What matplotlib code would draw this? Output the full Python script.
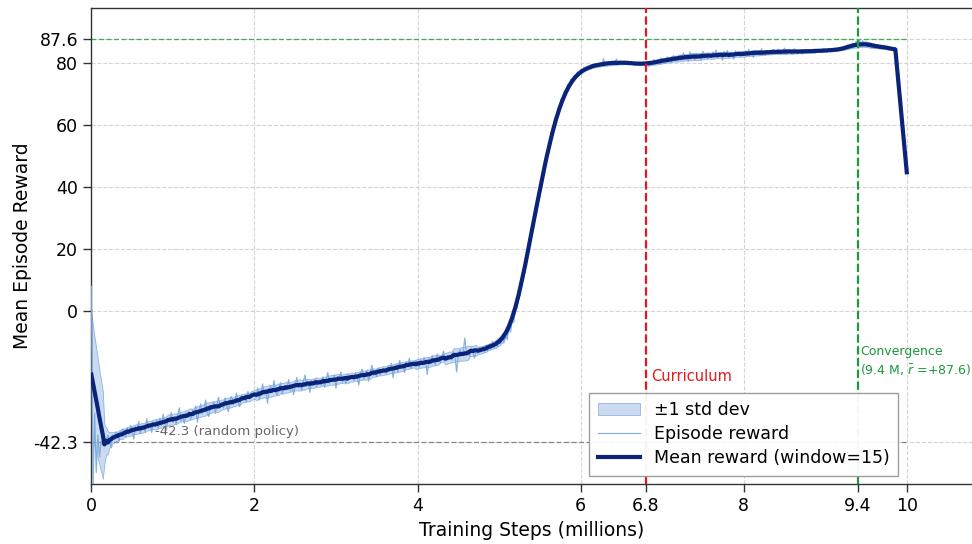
import numpy as np
import pandas as pd
import matplotlib
matplotlib.use("Agg")
import matplotlib.pyplot as plt

# episode reward, one value every 0.02 M steps (0 .. 10 M)
reward = [
    8, -58, -33, -52, -40, -47, -42, -43, -41, -43, -40, -42, -44, -40, -41, -39, -40, -42, -39, -38,
    -38.2, -40.5, -37.6, -39.8, -36.9, -38.7, -41.2, -37.3, -38.1, -35.6, -39.4, -37.2, -36.8, -38.9, -34.7, -37.9, -36.3, -39.1, -35.8, -37.0,
    -35.1, -37.8, -34.6, -36.9, -33.2, -36.0, -38.4, -34.8, -35.5, -32.7, -35.9, -34.1, -36.6, -33.3, -31.2, -35.4, -33.9, -36.2, -32.8, -34.0,
    -32.4, -34.9, -31.8, -33.7, -30.6, -35.8, -32.2, -29.9, -33.1, -31.5, -28.7, -32.6, -34.0, -30.4, -31.8, -29.2, -32.9, -30.1, -27.8, -31.2,
    -29.9, -31.2, -28.0, -30.6, -32.4, -28.7, -27.5, -30.2, -29.0, -26.4, -29.6, -30.8, -27.1, -28.9, -26.8, -29.4, -25.9, -28.3, -27.6, -26.9,
    -26.1, -27.9, -24.8, -28.6, -26.4, -23.5, -27.0, -25.2, -29.7, -25.8, -24.1, -26.3, -22.4, -25.9, -27.2, -24.6, -23.1, -26.8, -24.4, -25.5,
    -24.3, -22.1, -25.8, -23.7, -26.9, -24.0, -21.4, -24.8, -23.2, -25.5, -22.7, -20.6, -24.1, -23.0, -26.2, -22.5, -23.9, -21.8, -24.4, -22.9,
    -22.4, -23.9, -21.2, -24.6, -22.0, -19.8, -23.3, -21.7, -22.8, -20.5, -24.9, -21.1, -22.3, -19.6, -22.9, -21.4, -23.5, -20.2, -21.8, -20.9,
    -20.6, -22.3, -19.8, -21.5, -23.8, -20.1, -18.7, -21.9, -20.4, -19.2, -22.6, -20.0, -17.4, -20.8, -19.5, -21.2, -18.3, -20.6, -19.0, -18.5,
    -18.7, -20.2, -17.6, -19.3, -16.8, -21.5, -18.0, -17.4, -19.6, -15.9, -18.2, -17.1, -19.8, -16.5, -17.7, -15.2, -18.6, -16.9, -17.3, -16.0,
    -16.5, -18.1, -15.7, -17.3, -14.9, -16.6, -20.4, -15.2, -16.9, -14.3, -16.0, -17.5, -13.8, -15.9, -16.7, -14.6, -12.9, -15.8, -14.4, -15.1,
    -14.2, -15.8, -13.1, -14.9, -19.6, -13.7, -12.4, -14.5, -13.0, -8.7, -13.9, -12.8, -14.6, -11.9, -13.4, -15.1, -12.2, -13.6, -11.5, -12.9,
    -11.6, -13.4, -11.0, -12.9, -10.7, -12.3, -9.8, -11.9, -10.1, -11.5, -9.3, -10.6, -8.6, -10.3, -7.9, -9.2, -5.4, -6.8, -3.2, -3.6,
    0.8, 0.9, 4.6, 6.0, 9.9, 11.4, 15.1, 16.5, 20.3, 22.0, 25.8, 27.7, 31.6, 33.5, 37.2, 39.0, 42.6, 44.5, 48.1, 49.6,
    52.9, 54.6, 57.6, 58.9, 61.7, 62.6, 65.1, 66.0, 68.3, 68.8, 70.9, 71.3, 73.0, 73.2, 74.7, 74.6, 76.0, 75.9, 77.1, 76.8,
    77.9, 77.5, 78.5, 77.9, 78.9, 78.3, 79.3, 78.7, 79.6, 78.9, 79.7, 79.0, 79.9, 79.2, 81.4, 79.3, 79.9, 79.5, 80.3, 79.4,
    80.4, 79.7, 81.3, 79.5, 80.6, 79.9, 80.3, 79.6, 80.5, 80.0, 80.4, 79.8, 80.2, 79.6, 80.1, 79.4, 80.0, 79.5, 79.9, 79.4,
    79.1, 80.4, 78.9, 80.6, 79.5, 81.2, 79.7, 80.9, 79.8, 81.6, 80.1, 81.3, 80.2, 82.0, 80.4, 81.7, 80.3, 82.4, 80.6, 81.9,
    81.0, 82.6, 80.9, 83.3, 81.2, 82.4, 80.5, 83.6, 81.4, 82.9, 81.0, 83.1, 81.7, 82.5, 80.8, 83.8, 81.6, 82.7, 81.3, 83.0,
    81.8, 83.5, 82.0, 84.2, 81.6, 83.1, 82.4, 80.9, 83.7, 82.2, 84.0, 81.9, 83.4, 82.5, 81.3, 83.9, 82.6, 83.2, 82.0, 83.6,
    82.5, 83.9, 82.3, 84.4, 82.9, 83.6, 81.8, 84.1, 83.0, 83.5, 82.4, 84.6, 83.2, 83.8, 82.7, 84.0, 83.1, 83.9, 82.8, 84.2,
    83.1, 84.5, 82.9, 84.0, 83.6, 84.8, 82.7, 84.2, 83.4, 83.9, 82.8, 84.6, 83.3, 84.1, 83.5, 84.3, 82.9, 84.0, 83.6, 84.2,
    83.4, 84.1, 83.6, 84.5, 83.2, 84.3, 83.9, 84.0, 83.5, 84.6, 83.8, 84.2, 84.0, 84.4, 83.7, 84.5, 84.1, 84.6, 84.0, 84.7,
    84.0, 84.9, 84.2, 85.3, 84.5, 85.6, 84.9, 86.4, 85.5, 87.0, 86.1, 87.6, 85.4, 87.2, 85.6, 86.9, 85.1, 86.6, 84.9, 86.2,
    84.7, 86.0, 84.9, 85.8, 84.6, 85.5, 84.8, 85.3, 84.6, 85.2, 84.7, 85.1, 84.5, 85.0, 83.8, 84.2, 83.5, 84.0, 83.6, 83.9,
    83.7,
]
steps = np.linspace(0, 10, len(reward))  # millions

window = 15
random_reward = -42.3
curriculum_step = 6.8
converge_step = 9.4
converge_reward = 87.6

x_ticks = [0, 2, 4, 6, 6.8, 8, 9.4, 10]
x_tick_labels = ["0", "2", "4", "6", "6.8", "8", "9.4", "10"]
y_ticks = [-42.3, 0, 20, 40, 60, 80, 87.6]
y_tick_labels = ["-42.3", "0", "20", "40", "60", "80", "87.6"]

reward = np.array(reward)
mean_reward = np.convolve(reward, np.ones(window) / window, mode="same")
# spread of the reward around its local (centred) mean
s = pd.Series(reward)
local_mean = s.rolling(window, center=True, min_periods=1).mean()
std_reward = (s - local_mean).rolling(window, center=True, min_periods=1).std().fillna(0).to_numpy()

fig = plt.figure(figsize=(9.72, 5.44), dpi=100)
ax = fig.add_axes([0.094, 0.110, 0.906, 0.875])

ax.fill_between(steps, mean_reward - std_reward, mean_reward + std_reward,
                facecolor="#a8c3e6", edgecolor="#5d8fd3", linewidth=0.6, alpha=0.6,
                label="±1 std dev", zorder=2)
ax.plot(steps[:-7], reward[:-7], color="#7aa9dc", linewidth=0.9, alpha=0.9,
        label="Episode reward", zorder=3)
ax.plot(steps, mean_reward, color="#0b2379", linewidth=3.0,
        label="Mean reward (window=15)", zorder=4)

ax.hlines(converge_reward, 0, 10, colors="#3fae4f", linestyles=(0, (4, 2)), linewidth=0.9, zorder=2.5)
ax.hlines(random_reward, 0, 10, colors="#888888", linestyles=(0, (4, 2)), linewidth=0.9, zorder=2.5)
ax.axvline(curriculum_step, color="#e3191c", linestyle="--", linewidth=1.6, zorder=5)
ax.axvline(converge_step, color="#1a9a3a", linestyle="--", linewidth=1.6, zorder=5)

ax.text(0.78, random_reward + 1.5, "-42.3 (random policy)", fontsize=9.5,
        color="#666666", va="bottom", ha="left")
ax.text(curriculum_step + 0.07, -21.0, "Curriculum", fontsize=10.5,
        color="#e3191c", va="center", ha="left")
ax.text(converge_step + 0.03, -10.8, "Convergence\n(9.4 M, $\\bar{r}$ =+87.6)", fontsize=9,
        color="#1a9a3a", va="top", ha="left", linespacing=1.35)

ax.set_xlim(0, 10.8)
ax.set_ylim(-55.8, 97.7)
ax.set_xticks(x_ticks)
ax.set_xticklabels(x_tick_labels)
ax.set_yticks(y_ticks)
ax.set_yticklabels(y_tick_labels)
ax.tick_params(axis="both", labelsize=12.5, length=6, width=1.0, color="#333333")
ax.grid(True, color="#d4d4d4", linestyle="--", linewidth=0.8)
ax.set_axisbelow(True)
for side in ["left", "bottom", "top"]:
    ax.spines[side].set_color("#333333")
    ax.spines[side].set_linewidth(1.0)
ax.spines["right"].set_visible(False)

ax.set_xlabel("Training Steps (millions)", fontsize=13.5)
ax.set_ylabel("Mean Episode Reward", fontsize=13.5, labelpad=1)

leg = ax.legend(loc="lower right", bbox_to_anchor=(0.916, 0.017), borderaxespad=0,
                fontsize=12.5, frameon=True, fancybox=False, edgecolor="#999999",
                framealpha=0.95, handlelength=2.4, borderpad=0.5, labelspacing=0.35)
leg.get_frame().set_linewidth(1.0)

fig.savefig("out.png", dpi=100)
